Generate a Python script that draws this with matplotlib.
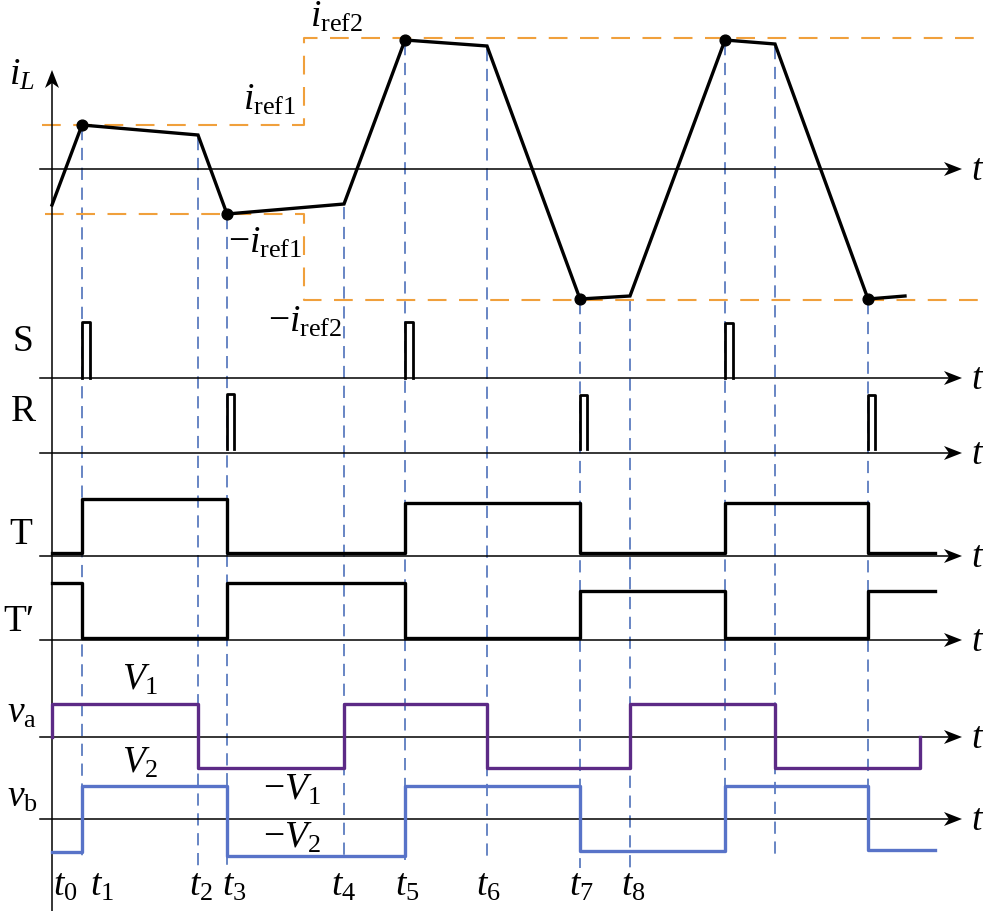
import numpy as np
import matplotlib.pyplot as plt

plt.rcParams['font.family'] = ['Liberation Serif', 'DejaVu Serif']
plt.rcParams['mathtext.fontset'] = 'custom'
plt.rcParams['mathtext.rm'] = 'Liberation Serif'
plt.rcParams['mathtext.it'] = 'Liberation Serif:italic'

# everything is laid out in image pixels (x right, y down)
W, H = 983, 911

# switching instants: dashed guides, with the y where each starts / ends
guide_x = [82, 198, 227, 344, 405, 487, 580, 630, 725, 775, 868]
guide_top = [128, 138, 217, 207, 43, 49, 302, 299, 43, 47, 302]
guide_bot = [862, 870, 866, 860, 860, 858, 868, 868, 820, 856, 820]

# inductor current i_L
iL_x = [52, 82, 198, 227, 344, 405, 487, 580, 630, 725, 775, 868, 905]
iL_y = [205, 125, 135, 214, 204, 40, 46, 299, 296, 40, 44, 299, 296]
iL_dots = [1, 3, 5, 7, 9, 11]

# reference levels (orange dashed)
ref_pos_x = [42, 304, 304, 980]
ref_pos_y = [125, 125, 38, 38]
ref_neg_x = [45, 304, 304, 980]
ref_neg_y = [214, 214, 300, 300]

# axis baselines
axis_y = [169, 378, 453, 556, 640, 737, 819]
axis_x0 = 40
axis_tip = 962

# S / R pulses
S_x = [82, 405, 725]
S_top = [322, 322, 323]
R_x = [227, 580, 868]
R_top = [394, 395, 395]

# T and T' flip-flop outputs
TT_edges = [52, 82, 227, 405, 580, 725, 868, 935]
T_lvl = [553, 499, 553, 503, 553, 503, 553]
Tp_lvl = [583, 638, 583, 638, 591, 638, 591]

# bridge voltages
va_edges = [52, 198, 344, 487, 630, 775, 920]
va_lvl = [704, 768, 704, 768, 704, 768]
vb_edges = [52, 82, 227, 405, 580, 725, 868, 935]
vb_lvl = [852, 786, 856, 786, 851, 786, 850]

t_names = ['0', '1', '2', '3', '4', '5', '6', '7', '8']
t_lab_x = [65, 102, 201, 234, 344, 407, 488, 581, 633]

black = 'black'
orange = '#F0A03C'
guide_blue = '#3F64B4'
purple = '#5C2A86'
vb_blue = '#5873C8'


def step_path(edges, levels):
    xs = np.repeat(edges, 2)[1:-1]
    ys = np.repeat(levels, 2)
    return xs, ys


def arrow_head(ax, x, y, direction='right', L=18, hw=7, notch=5):
    if direction == 'right':
        px = [x, x - L, x - L + notch, x - L]
        py = [y, y - hw, y, y + hw]
    else:  # up
        px = [x, x - hw, x, x + hw]
        py = [y, y + L, y + L - notch, y + L]
    ax.fill(px, py, color=black, lw=0, zorder=5)


fig = plt.figure(figsize=(W / 100, H / 100), dpi=100)
ax = fig.add_axes([0, 0, 1, 1])
ax.set_xlim(0, W)
ax.set_ylim(H, 0)
ax.axis('off')

# guides
for x, y0, y1 in zip(guide_x, guide_top, guide_bot):
    ax.plot([x, x], [y0, y1], color=guide_blue, lw=1.1, dashes=(8, 5), zorder=1)

# reference levels
ax.plot(ref_pos_x, ref_pos_y, color=orange, lw=1.5, dashes=(9, 6), zorder=1)
ax.plot(ref_neg_x, ref_neg_y, color=orange, lw=1.5, dashes=(9, 6), zorder=1)

# axes
ax.plot([52, 52], [80, H], color=black, lw=1.1, zorder=3)
arrow_head(ax, 52, 70, 'up')
fs = 27
for y in axis_y:
    ax.plot([axis_x0, axis_tip - 10], [y, y], color=black, lw=1.1, zorder=3)
    arrow_head(ax, axis_tip, y)
    ax.text(978, y + 2, '$t$', fontsize=fs, ha='center', va='center')

# i_L
ax.plot(iL_x, iL_y, color=black, lw=2.4, zorder=4, solid_joinstyle='miter')
ax.scatter([iL_x[i] for i in iL_dots], [iL_y[i] for i in iL_dots],
           s=60, color=black, zorder=5)

# S and R pulses
for x, top in zip(S_x, S_top):
    ax.plot([x, x, x + 8, x + 8], [axis_y[1], top, top, axis_y[1]],
            color=black, lw=2.0, zorder=4)
for x, top in zip(R_x, R_top):
    ax.plot([x, x, x + 7, x + 7], [449, top, top, 449],
            color=black, lw=2.0, zorder=4)

# T, T'
xs, ys = step_path(TT_edges, T_lvl)
ax.plot(xs, ys, color=black, lw=2.4, zorder=4)
xs, ys = step_path(TT_edges, Tp_lvl)
ax.plot(xs, ys, color=black, lw=2.4, zorder=4)

# v_a, v_b
xs, ys = step_path(va_edges, va_lvl)
xs = np.concatenate([[va_edges[0]], xs, [va_edges[-1]]])
ys = np.concatenate([[axis_y[5]], ys, [axis_y[5]]])
ax.plot(xs, ys, color=purple, lw=2.4, zorder=4)
xs, ys = step_path(vb_edges, vb_lvl)
ax.plot(xs, ys, color=vb_blue, lw=2.4, zorder=4)

# labels
ax.text(22, 75, '$i_L$', fontsize=fs, ha='center', va='center')
ax.text(337, 17, r'$i_{\rm ref2}$', fontsize=fs, ha='center', va='center')
ax.text(270, 100, r'$i_{\rm ref1}$', fontsize=fs, ha='center', va='center')
ax.text(265, 243, r'$-i_{\rm ref1}$', fontsize=fs, ha='center', va='center')
ax.text(305, 322, r'$-i_{\rm ref2}$', fontsize=fs, ha='center', va='center')
ax.text(23, 342, 'S', fontsize=fs, ha='center', va='center')
ax.text(23, 412, 'R', fontsize=fs, ha='center', va='center')
ax.text(21, 535, 'T', fontsize=fs, ha='center', va='center')
ax.text(3, 622, 'T\u2032', fontsize=fs, ha='left', va='center')
ax.text(22, 713, r'$v_{\rm a}$', fontsize=fs, ha='center', va='center')
ax.text(22, 797, r'$v_{\rm b}$', fontsize=fs, ha='center', va='center')
ax.text(140, 680, '$V_1$', fontsize=fs, ha='center', va='center')
ax.text(140, 763, '$V_2$', fontsize=fs, ha='center', va='center')
ax.text(292, 790, '$-V_1$', fontsize=fs, ha='center', va='center')
ax.text(292, 838, '$-V_2$', fontsize=fs, ha='center', va='center')
for n, x in zip(t_names, t_lab_x):
    ax.text(x, 886, '$t_%s$' % n, fontsize=fs, ha='center', va='center')

fig.savefig('out.png', dpi=100)
